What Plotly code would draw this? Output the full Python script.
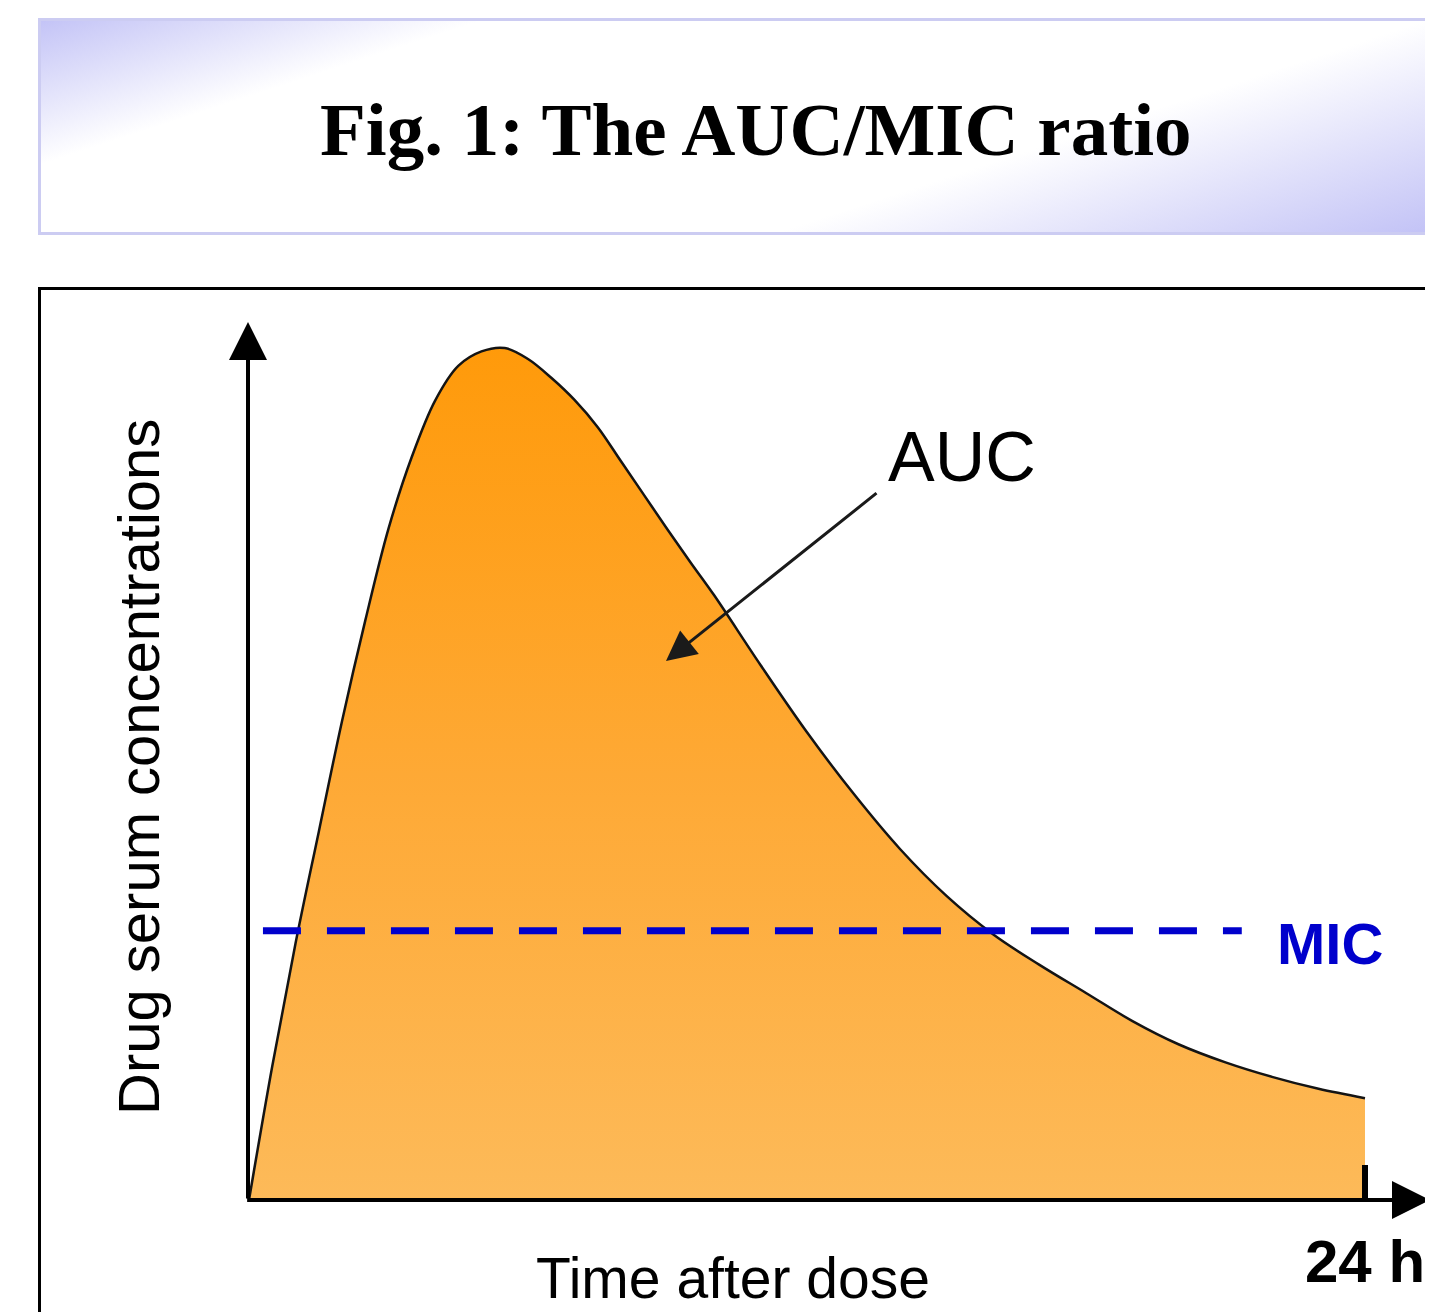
import base64

import plotly.graph_objects as go

# time after dose (h) and drug serum concentration (arbitrary units, peak = 100)
hours = [0, 0.5, 1, 1.5, 2, 2.5, 3, 3.5, 4, 4.5, 5, 5.5, 6, 6.5, 7, 7.5, 8, 8.5,
         9, 9.5, 10, 11, 12, 13, 14, 15, 16, 17, 18, 19, 20, 21, 22, 23, 24]
conc = [0, 15.7, 30.1, 43.2, 56.2, 68.0, 78.8, 87.2, 93.8, 97.9, 99.6, 100, 98.7,
        96.5, 93.9, 90.7, 86.7, 82.7, 78.7, 74.8, 71.0, 62.8, 54.9, 47.7, 41.2,
        35.7, 31.2, 27.6, 24.3, 21.0, 18.25, 16.15, 14.45, 13.05, 11.95]

mic_level = 31.6
mic_span = [0.3, 21.35]

end_tick = [24]
end_tick_label = ['24 h']

# the page has an 8px body margin, so work in reference pixels and shift
OFF = 8
W, H = 1433 - OFF, 1312 - OFF
L, T = 248 - OFF, 322 - OFF
R = W - (1430 - OFF)
B = H - (1200 - OFF)


def px_x(px):
    return (px - OFF - L) / (W - L - R)


def px_y(py):
    return (H - B - (py - OFF)) / (H - T - B)


sans = 'Liberation Sans'

fig = go.Figure()

fig.add_trace(go.Scatter(
    x=hours,
    y=conc,
    mode='lines',
    line=dict(color='#141414', width=2.5, shape='spline', smoothing=1),
    fill='tozeroy',
    fillgradient=dict(
        type='vertical',
        colorscale=[[0, '#FDBA59'], [0.5, '#FEA935'], [1, '#FF9A0A']],
        start=0,
        stop=100,
    ),
    hoverinfo='skip',
))

fig.add_trace(go.Scatter(
    x=mic_span,
    y=[mic_level, mic_level],
    mode='lines',
    line=dict(color='#0000CC', width=7, dash='38px,26px'),
    hoverinfo='skip',
))

# gradient header box behind the title
svg = (
    '<svg xmlns="http://www.w3.org/2000/svg" width="1402" height="217" '
    'viewBox="0 0 1402 217" preserveAspectRatio="none">'
    '<defs><linearGradient id="g" gradientUnits="userSpaceOnUse" '
    'x1="0" y1="0" x2="198" y2="606">'
    '<stop offset="0" stop-color="#C2C2F6"/>'
    '<stop offset="0.22" stop-color="#FFFFFF"/>'
    '<stop offset="0.68" stop-color="#FFFFFF"/>'
    '<stop offset="1" stop-color="#C2C2F6"/>'
    '</linearGradient></defs>'
    '<rect x="1.5" y="1.5" width="1420" height="214" fill="url(#g)" '
    'stroke="#CCCCF2" stroke-width="3"/></svg>'
)
src = 'data:image/svg+xml;base64,' + base64.b64encode(svg.encode()).decode()

fig.add_layout_image(
    source=src,
    xref='paper', yref='paper',
    x=px_x(38), y=px_y(18),
    sizex=px_x(1440) - px_x(38), sizey=px_y(18) - px_y(235),
    xanchor='left', yanchor='top',
    sizing='stretch',
    layer='below',
)

# frame around the chart
fig.add_shape(
    type='rect', xref='paper', yref='paper',
    x0=px_x(39.5), x1=px_x(1460), y0=px_y(288.5), y1=px_y(1340),
    line=dict(color='black', width=3),
)

dom = dict(xref='x domain', yref='y domain', axref='x domain', ayref='y domain')

annotations = [
    # axes with arrow heads
    dict(**dom, x=0, y=1, ax=0, ay=0, text='', showarrow=True,
         arrowhead=2, arrowsize=1.9, arrowwidth=4, arrowcolor='black'),
    dict(**dom, x=1, y=0, ax=-0.002, ay=0, text='', showarrow=True,
         arrowhead=2, arrowsize=1.9, arrowwidth=4, arrowcolor='black'),
    # AUC pointer
    dict(**dom, x=px_x(666), y=px_y(661), ax=px_x(878), ay=px_y(492), text='',
         showarrow=True, arrowhead=2, arrowsize=2.0, arrowwidth=3,
         arrowcolor='#1a1a1a'),
    dict(xref='paper', yref='paper', x=px_x(962), y=px_y(457), text='AUC',
         showarrow=False, font=dict(family=sans, size=70, color='black'),
         xanchor='center', yanchor='middle'),
    dict(xref='paper', yref='paper', x=px_x(1330), y=px_y(943), text='<b>MIC</b>',
         showarrow=False, font=dict(family=sans, size=58, color='#0000CC'),
         xanchor='center', yanchor='middle'),
    dict(xref='x', yref='paper', x=end_tick[0], y=px_y(1261),
         text='<b>' + end_tick_label[0] + '</b>',
         showarrow=False, font=dict(family=sans, size=60, color='black'),
         xanchor='center', yanchor='middle'),
    dict(xref='paper', yref='paper', x=px_x(733), y=px_y(1278), text='Time after dose',
         showarrow=False, font=dict(family=sans, size=57, color='black'),
         xanchor='center', yanchor='middle'),
    dict(xref='paper', yref='paper', x=px_x(138), y=px_y(767),
         text='Drug serum concentrations', textangle=-90,
         showarrow=False, font=dict(family=sans, size=58, color='black'),
         xanchor='center', yanchor='middle'),
    dict(xref='paper', yref='paper', x=px_x(755), y=px_y(129),
         text='<b>Fig. 1: The AUC/MIC ratio</b>',
         showarrow=False, font=dict(family='Liberation Serif', size=75, color='black'),
         xanchor='center', yanchor='middle'),
]

fig.update_layout(
    width=W,
    height=H,
    margin=dict(l=L, r=R, t=T, b=B, pad=0),
    paper_bgcolor='white',
    plot_bgcolor='white',
    showlegend=False,
    annotations=annotations,
    xaxis=dict(
        range=[-0.0215, 25.398],
        showgrid=False, zeroline=False, showline=False,
        tickvals=end_tick, ticks='inside', ticklen=35, tickwidth=6,
        tickcolor='black', showticklabels=False,
        fixedrange=True,
    ),
    yaxis=dict(
        range=[0, 103.05],
        showgrid=False, zeroline=False, showline=False,
        showticklabels=False, ticks='',
        fixedrange=True,
    ),
)

fig.write_html('out.html')
